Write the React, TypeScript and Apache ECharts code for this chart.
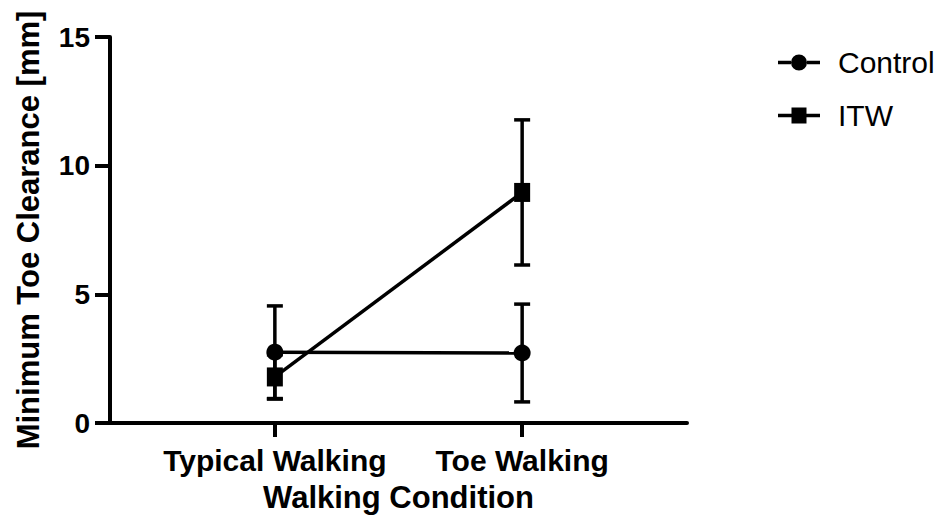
import React, { useEffect, useRef } from "react";
import * as echarts from "echarts";

const categories = ["Typical Walking", "Toe Walking"];
const categoryPositions = [2, 5];
const controlMean = [2.75, 2.72];
const controlSD = [1.8, 1.9];
const itwMean = [1.79, 8.96];
const itwSD = [0.86, 2.82];
const yTicks = [0, 5, 10, 15];

const FONT = "'Liberation Sans', Arial, Helvetica, sans-serif";
const LW = 3.5;
const AXW = 4;

const ICON_CIRCLE =
  "path://M0,6.2 L13,6.2 L13,9.8 L0,9.8 Z M29,6.2 L42,6.2 L42,9.8 L29,9.8 Z M13,8 a8,8 0 1,0 16,0 a8,8 0 1,0 -16,0 Z";
const ICON_SQUARE =
  "path://M0,6.2 L13.5,6.2 L13.5,9.8 L0,9.8 Z M28.5,6.2 L42,6.2 L42,9.8 L28.5,9.8 Z M13.5,0 L28.5,0 L28.5,16 L13.5,16 Z";

export default function App() {
  const ref = useRef<HTMLDivElement>(null);
  useEffect(() => {
    if (!ref.current) return;
    const chart = echarts.init(ref.current, undefined, { renderer: "svg" });

    const errData = (means: number[], sds: number[]) =>
      means.map((m, i) => [categoryPositions[i], m - sds[i], m + sds[i]]);

    const renderErr = (params: any, api: any) => {
      const x = api.value(0);
      const lo = api.coord([x, api.value(1)]);
      const hi = api.coord([x, api.value(2)]);
      const hw = 8;
      const st = { stroke: "#000", lineWidth: LW };
      return {
        type: "group",
        children: [
          { type: "line", shape: { x1: lo[0], y1: lo[1], x2: hi[0], y2: hi[1] }, style: st },
          { type: "line", shape: { x1: lo[0] - hw, y1: lo[1], x2: lo[0] + hw, y2: lo[1] }, style: st },
          { type: "line", shape: { x1: hi[0] - hw, y1: hi[1], x2: hi[0] + hw, y2: hi[1] }, style: st },
        ],
      };
    };

    chart.setOption({
      animation: false,
      grid: { left: 110, right: 258, top: 37, bottom: 102, containLabel: false },
      legend: {
        data: [
          { name: "Control", icon: ICON_CIRCLE },
          { name: "ITW", icon: ICON_SQUARE },
        ],
        orient: "vertical",
        left: 773,
        top: 42,
        itemWidth: 42,
        itemHeight: 16,
        itemGap: 22,
        textStyle: { fontFamily: FONT, fontSize: 30, color: "#000", lineHeight: 31, padding: [0, 0, 0, 13] },
      },
      xAxis: {
        type: "value",
        min: 0,
        max: 7,
        interval: 1,
        name: "Walking Condition",
        nameLocation: "middle",
        nameGap: 59,
        nameTextStyle: { fontFamily: FONT, fontSize: 31, fontWeight: "bold", color: "#000" },
        axisLine: { show: true, onZero: false, lineStyle: { color: "#000", width: AXW } },
        axisTick: { show: true, customValues: categoryPositions, length: 14, lineStyle: { color: "#000", width: AXW } },
        axisLabel: {
          customValues: categoryPositions,
          margin: 22,
          fontFamily: FONT,
          fontSize: 30,
          fontWeight: "bold",
          color: "#000",
          formatter: (v: number) => {
            const i = categoryPositions.indexOf(v);
            return i >= 0 ? categories[i] : "";
          },
        },
        splitLine: { show: false },
      },
      yAxis: {
        type: "value",
        min: 0,
        max: 15,
        interval: 5,
        name: "Minimum Toe Clearance [mm]",
        nameLocation: "middle",
        nameGap: 66,
        nameTextStyle: { fontFamily: FONT, fontSize: 31, fontWeight: "bold", color: "#000" },
        axisLine: { show: true, lineStyle: { color: "#000", width: AXW } },
        axisTick: { show: true, customValues: yTicks, length: 15, lineStyle: { color: "#000", width: AXW } },
        axisLabel: {
          customValues: yTicks,
          margin: 20,
          fontFamily: FONT,
          fontSize: 28,
          fontWeight: "bold",
          color: "#000",
        },
        splitLine: { show: false },
      },
      series: [
        {
          type: "custom",
          name: "ControlErr",
          renderItem: renderErr,
          encode: { x: 0, y: [1, 2] },
          data: errData(controlMean, controlSD),
          z: 1,
        },
        {
          type: "custom",
          name: "ITWErr",
          renderItem: renderErr,
          encode: { x: 0, y: [1, 2] },
          data: errData(itwMean, itwSD),
          z: 1,
        },
        {
          type: "line",
          name: "Control",
          data: controlMean.map((m, i) => [categoryPositions[i], m]),
          symbol: "circle",
          symbolSize: 17,
          showAllSymbol: true,
          itemStyle: { color: "#000" },
          lineStyle: { color: "#000", width: LW },
          z: 3,
        },
        {
          type: "line",
          name: "ITW",
          data: itwMean.map((m, i) => [categoryPositions[i], m]),
          symbol: "rect",
          symbolSize: [16, 19],
          showAllSymbol: true,
          itemStyle: { color: "#000" },
          lineStyle: { color: "#000", width: LW },
          z: 3,
        },
      ],
    });
    return () => chart.dispose();
  }, []);
  return (
    <div
      ref={ref}
      style={{ position: "absolute", left: 0, top: 0, width: 945, height: 525, background: "#fff" }}
    />
  );
}
